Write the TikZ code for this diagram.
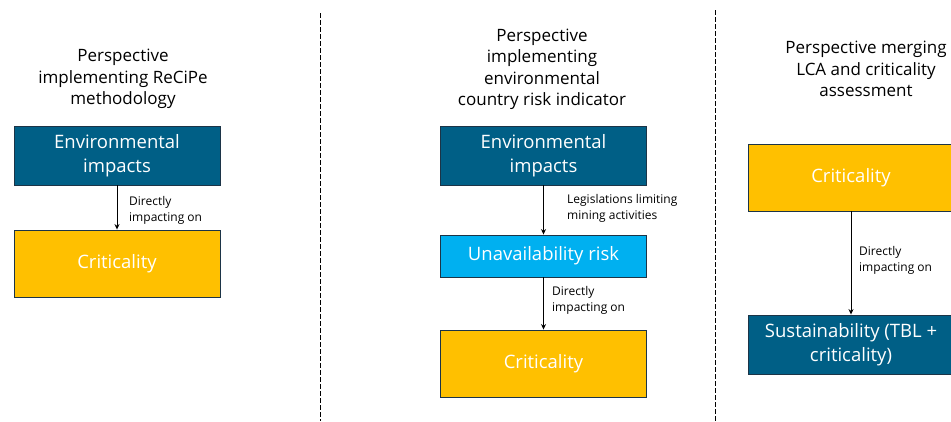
\documentclass[tikz,border=0pt]{standalone}
\usepackage{fontspec}
\setmainfont{Open Sans}
\usetikzlibrary{arrows.meta}
\definecolor{envblue}{HTML}{005F86}
\definecolor{crityellow}{HTML}{FFC000}
\definecolor{unavblue}{HTML}{00B0F0}
\definecolor{boxline}{HTML}{1C3447}
\tikzset{
  box/.style={draw=boxline, line width=0.9pt, minimum width=206pt, text=white, font=\fontsize{18.5}{24}\selectfont, align=center, inner sep=0pt},
  ptitle/.style={font=\fontsize{17}{21.5}\selectfont, align=center, text=black},
  lbl/.style={font=\fontsize{12}{16}\selectfont, align=left, anchor=west, inner sep=0pt},
  arr/.style={-{Stealth[length=5.5pt,width=5pt]}, line width=1pt},
  divline/.style={dash pattern=on 5pt off 2pt, line width=1pt}
}
\begin{document}
\begin{tikzpicture}[x=1pt,y=-1pt]
\useasboundingbox (0,0) rectangle (951,421);
\clip (0,0) rectangle (951,421);
% dividers
\coordinate (d1t) at (320,13);
\coordinate (d1b) at (320,421);
\coordinate (d2t) at (715,10);
\coordinate (d2b) at (715,421);
\draw[divline] (d1t) -- (d1b);
\draw[divline] (d2t) -- (d2b);
% panel 1
\node[ptitle] (t1) at (123,79) {Perspective\\implementing ReCiPe\\methodology};
\node[box, fill=envblue, minimum height=59pt] (e1) at (117,155.5) {Environmental\\impacts};
\node[box, fill=crityellow, minimum height=67pt] (c1) at (117,263.5) {Criticality};
\draw[arr] (e1) -- (c1);
\node[lbl] (l1) at (129,210) {Directly\\impacting on};
% panel 2
\node[ptitle] (t2) at (542,69.5) {Perspective\\implementing\\environmental\\country risk indicator};
\node[box, fill=envblue, minimum height=59pt] (e2) at (543.5,155.5) {Environmental\\impacts};
\node[box, fill=unavblue, minimum height=42pt] (u2) at (543.5,256) {Unavailability risk};
\node[box, fill=crityellow, minimum height=67pt] (c2) at (543.5,363.5) {Criticality};
\draw[arr] (e2) -- (u2);
\draw[arr] (u2) -- (c2);
\node[lbl] (l2) at (567,208) {Legislations limiting\\mining activities};
\node[lbl] (l3) at (552,300) {Directly\\impacting on};
% panel 3
\node[ptitle] (t3) at (866,69) {Perspective merging\\LCA and criticality\\assessment};
\node[box, fill=crityellow, minimum height=67pt] (c3) at (851,177.5) {Criticality};
\node[box, fill=envblue, minimum height=59pt] (s3) at (851,344.5) {Sustainability (TBL +\\criticality)};
\draw[arr] (c3) -- (s3);
\node[lbl] (l4) at (859,260) {Directly\\impacting on};
\end{tikzpicture}
\end{document}
